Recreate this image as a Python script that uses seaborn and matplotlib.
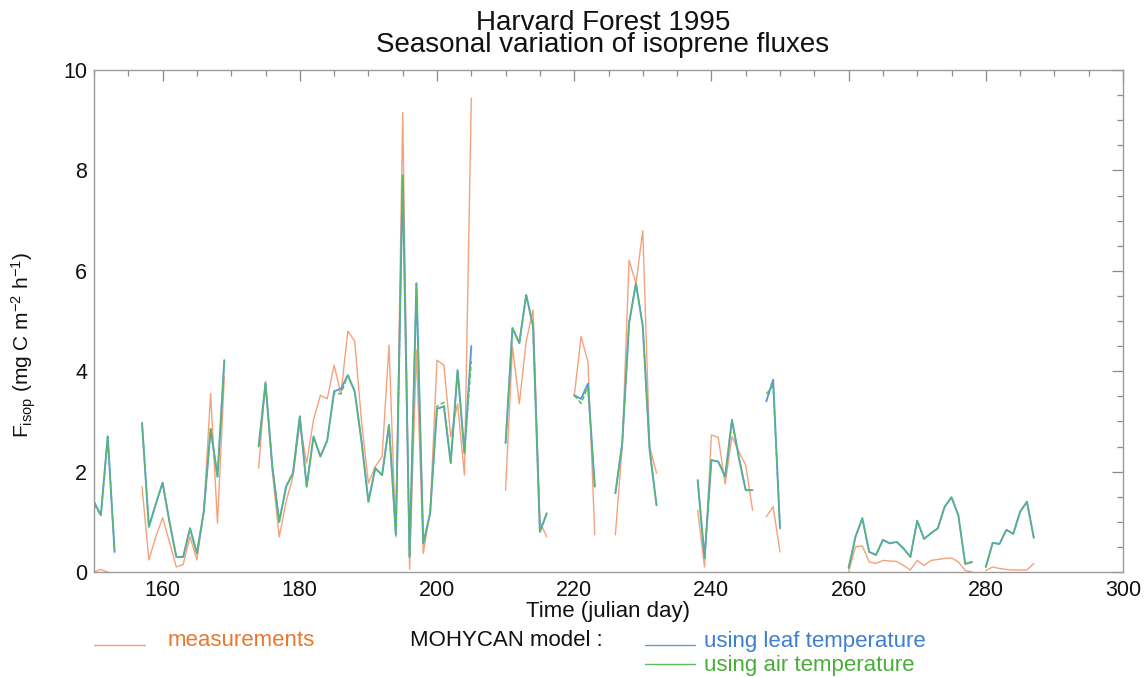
import numpy as np
import pandas as pd
import matplotlib
matplotlib.use("Agg")
import matplotlib.pyplot as plt
import seaborn as sns
from matplotlib.lines import Line2D
from matplotlib.ticker import MultipleLocator

nan = np.nan
days = list(range(150, 288))

measurements = [
    0.00, 0.05, 0.00, nan, nan, nan, nan, 1.70, 0.24, 0.70,     # 150-159
    1.08, 0.60, 0.10, 0.15, 0.70, 0.24, 1.20, 3.56, 0.97, 3.90,  # 160-169
    nan, nan, nan, nan, 2.07, 3.80, 2.00, 0.70, 1.40, 1.90,      # 170-179
    2.95, 2.17, 3.03, 3.52, 3.45, 4.12, 3.55, 4.80, 4.60, 3.00,  # 180-189
    1.77, 2.10, 2.30, 4.52, 0.70, 9.15, 0.05, 4.42, 0.37, 1.20,  # 190-199
    4.22, 4.12, 2.70, 3.35, 1.93, 9.44, nan, nan, nan, nan,      # 200-209
    1.63, 4.49, 3.35, 4.60, 5.22, 1.00, 0.70, nan, nan, nan,     # 210-219
    3.50, 4.69, 4.19, 0.74, nan, nan, 0.74, 2.50, 6.21, 5.75,    # 220-229
    6.80, 2.50, 1.97, nan, nan, nan, nan, nan, 1.23, 0.10,       # 230-239
    2.73, 2.68, 1.75, 2.70, 2.40, 2.13, 1.23, nan, 1.10, 1.30,   # 240-249
    0.40, nan, nan, nan, nan, nan, nan, nan, nan, nan,           # 250-259
    0.00, 0.50, 0.52, 0.20, 0.17, 0.23, 0.22, 0.21, 0.13, 0.04,  # 260-269
    0.23, 0.13, 0.23, 0.25, 0.27, 0.28, 0.20, 0.03, 0.00, nan,   # 270-279
    0.03, 0.10, 0.07, 0.05, 0.04, 0.04, 0.04, 0.17,              # 280-287
]

model_leaf = [
    1.40, 1.13, 2.70, 0.40, nan, nan, nan, 2.97, 0.90, 1.35,
    1.78, 1.00, 0.30, 0.30, 0.87, 0.37, 1.20, 2.85, 1.90, 4.22,
    nan, nan, nan, nan, 2.50, 3.76, 2.10, 1.00, 1.70, 1.97,
    3.10, 1.70, 2.70, 2.30, 2.62, 3.60, 3.65, 3.92, 3.60, 2.60,
    1.40, 2.07, 1.93, 2.93, 0.74, 7.90, 0.30, 5.75, 0.57, 1.17,
    3.25, 3.30, 2.17, 4.02, 2.37, 4.50, nan, nan, nan, nan,
    2.57, 4.86, 4.56, 5.52, 4.90, 0.80, 1.17, nan, nan, nan,
    3.52, 3.45, 3.75, 1.70, nan, nan, 1.57, 2.56, 4.96, 5.75,
    4.89, 2.43, 1.33, nan, nan, nan, nan, nan, 1.83, 0.28,
    2.23, 2.20, 1.90, 3.03, 2.28, 1.63, 1.63, nan, 3.40, 3.83,
    0.87, nan, nan, nan, nan, nan, nan, nan, nan, nan,
    0.08, 0.70, 1.07, 0.40, 0.34, 0.64, 0.57, 0.60, 0.47, 0.30,
    1.02, 0.66, 0.77, 0.87, 1.30, 1.49, 1.13, 0.16, 0.20, nan,
    0.10, 0.58, 0.56, 0.84, 0.76, 1.20, 1.40, 0.68,
]

model_air = [
    1.35, 1.13, 2.70, 0.40, nan, nan, nan, 2.97, 0.90, 1.35,
    1.78, 1.00, 0.30, 0.30, 0.87, 0.37, 1.20, 2.85, 1.90, 4.22,
    nan, nan, nan, nan, 2.50, 3.76, 2.10, 1.00, 1.70, 1.97,
    3.10, 1.70, 2.70, 2.30, 2.62, 3.56, 3.55, 3.92, 3.60, 2.60,
    1.40, 2.07, 1.93, 2.93, 0.74, 7.90, 0.30, 5.75, 0.57, 1.17,
    3.30, 3.38, 2.17, 4.02, 2.37, 4.20, nan, nan, nan, nan,
    2.57, 4.86, 4.56, 5.52, 4.90, 0.80, 1.17, nan, nan, nan,
    3.52, 3.36, 3.69, 1.70, nan, nan, 1.57, 2.56, 4.96, 5.75,
    4.89, 2.43, 1.33, nan, nan, nan, nan, nan, 1.83, 0.28,
    2.23, 2.20, 1.90, 3.03, 2.28, 1.63, 1.63, nan, 3.55, 3.70,
    0.87, nan, nan, nan, nan, nan, nan, nan, nan, nan,
    0.08, 0.70, 1.07, 0.40, 0.34, 0.64, 0.57, 0.60, 0.47, 0.30,
    1.02, 0.66, 0.77, 0.87, 1.30, 1.49, 1.13, 0.16, 0.20, nan,
    0.10, 0.58, 0.56, 0.84, 0.76, 1.20, 1.40, 0.68,
]

x_ticks = [160, 180, 200, 220, 240, 260, 280, 300]
y_ticks = [0, 2, 4, 6, 8, 10]
title_lines = ["Harvard Forest 1995", "Seasonal variation of isoprene fluxes"]

c_meas = "#f5a27c"
c_leaf = "#5f9ad6"
c_air = "#55c05a"
t_meas = "#e8782e"
t_leaf = "#3d7fd0"
t_air = "#4aad3a"

W, H = 1148, 677


def to_df(vals):
    s = pd.Series(vals, index=days, dtype=float)
    seg = s.isna().cumsum()
    df = pd.DataFrame({"day": days, "value": s.values, "seg": seg.values})
    return df.dropna()


def fx(px):
    return px / W


def fy(py):
    return 1 - py / H


sns.set_style("white")
plt.rcParams["font.family"] = ["Liberation Sans", "DejaVu Sans"]
plt.rcParams["mathtext.fontset"] = "custom"
plt.rcParams["mathtext.rm"] = "Liberation Sans"
plt.rcParams["mathtext.it"] = "Liberation Sans"

fig = plt.figure(figsize=(W / 100, H / 100), dpi=100)
ax = fig.add_axes([fx(94), fy(572), (1123 - 94) / W, (572 - 70) / H])

sns.lineplot(data=to_df(measurements), x="day", y="value", units="seg",
             estimator=None, color=c_meas, lw=1.0, ax=ax)
sns.lineplot(data=to_df(model_leaf), x="day", y="value", units="seg",
             estimator=None, color=c_leaf, lw=1.4, ax=ax)
n_before = len(ax.lines)
sns.lineplot(data=to_df(model_air), x="day", y="value", units="seg",
             estimator=None, color=c_air, lw=1.1, ax=ax)
for ln in ax.lines[n_before:]:
    ln.set_dashes([3, 1.5])

ax.set_xlim(150, 300)
ax.set_ylim(0, 10)
ax.set_xticks(x_ticks)
ax.set_yticks(y_ticks)
ax.xaxis.set_minor_locator(MultipleLocator(5))
ax.yaxis.set_minor_locator(MultipleLocator(0.5))
ax.tick_params(which="both", direction="in", top=True, right=True,
               color="#8a8a8a", width=0.9)
ax.tick_params(which="major", length=8, labelsize=15.5, labelcolor="#111111")
ax.tick_params(axis="x", which="major", pad=6)
ax.tick_params(axis="y", which="major", pad=5)
ax.tick_params(which="minor", length=4)
for sp in ax.spines.values():
    sp.set_color("#9a9a9a")
    sp.set_linewidth(1.0)
ax.set_xlabel("")
ax.set_ylabel("")

fig.text(fx(603), fy(34), "\n".join(title_lines), ha="center", va="center",
         multialignment="center", linespacing=0.82, fontsize=20,
         color="#111111")
fig.text(fx(608), fy(612), "Time (julian day)", ha="center", va="center",
         fontsize=16, color="#111111")
fig.text(fx(24), fy(345),
         r"F$_{\rm isop}$ (mg C m$^{-2}$ h$^{-1}$)", rotation=90,
         ha="center", va="center", fontsize=15, color="#111111")

# legend
fig.add_artist(Line2D([fx(94), fx(145)], [fy(645)] * 2,
                      color=c_meas, lw=1.0, transform=fig.transFigure))
fig.text(fx(168), fy(641), "measurements", ha="left", va="center",
         fontsize=16, color=t_meas)
fig.text(fx(410), fy(641), "MOHYCAN model :", ha="left", va="center",
         fontsize=16, color="#111111")
fig.add_artist(Line2D([fx(645), fx(695)], [fy(645)] * 2,
                      color=c_leaf, lw=1.0, transform=fig.transFigure))
fig.text(fx(704), fy(641), "using leaf temperature", ha="left",
         va="center", fontsize=16, color=t_leaf)
fig.add_artist(Line2D([fx(645), fx(695)], [fy(664)] * 2,
                      color=c_air, lw=1.0, transform=fig.transFigure))
fig.text(fx(704), fy(666), "using air temperature", ha="left",
         va="center", fontsize=16, color=t_air)

fig.savefig("out.png", dpi=100)
